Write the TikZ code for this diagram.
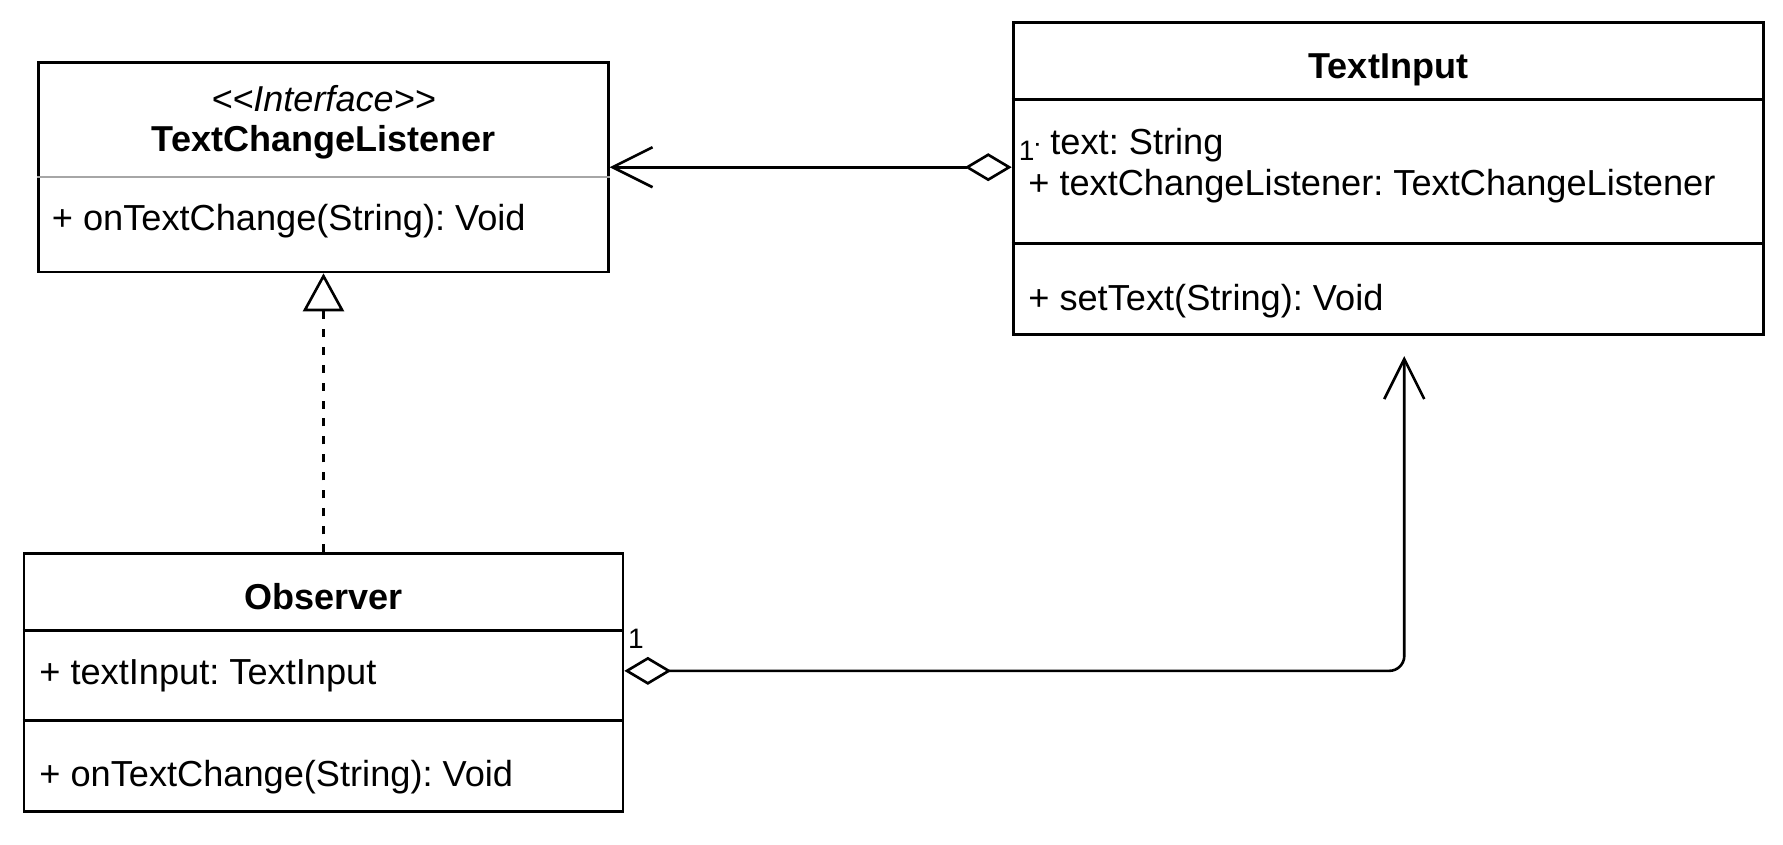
\documentclass[tikz,border=0pt]{standalone}
\usepackage{fontspec}
\setmainfont{Liberation Sans}
\usetikzlibrary{arrows.meta, positioning, calc}
\frenchspacing

\begin{document}
\begin{tikzpicture}[
    x=0.02cm, y=-0.02cm,
    % Class styles
    classbox/.style={rectangle, draw=black, line width=1.6pt, inner sep=0pt},
    sepline/.style={line width=1.6pt},
    ifsepline/.style={line width=1.6pt, draw=gray!70},
    clstitle/.style={font=\fontsize{20.5}{24}\selectfont\bfseries, inner sep=0pt},
    stereo/.style={font=\fontsize{20.5}{24}\selectfont\itshape, inner sep=0pt},
    member/.style={font=\fontsize{20.6}{24}\selectfont, anchor=west, inner sep=0pt, text height=0.72em, text depth=0.21em},
    mult/.style={font=\fontsize{16}{18}\selectfont, inner sep=1pt, fill=white},
    % Arrow styles
    assoc/.style={line width=1.5pt, {Diamond[open, length=0.94cm, width=0.56cm]}-{Straight Barb[length=0.8cm, width=0.8cm]}},
    realize/.style={line width=1.5pt, dash pattern=on 0.16cm off 0.2cm, -{Triangle[open, length=0.76cm, width=0.82cm]}},
]
\useasboundingbox (0,0) rectangle (1783,845);

% Interface
\node[classbox, minimum width=11.39cm, minimum height=4.19cm] (lis) at (323.5,167.2) {};
\node[stereo] (lisstereo) at (323.5,99) {<\kern0pt<Interface>\kern0pt>};
\node[clstitle] (listitle) at (323.5,142) {TextChangeListener};
\draw[ifsepline] ([yshift=-2.32cm]lis.north west) -- ([yshift=-2.32cm]lis.north east);
\node[member] (lisop) at (51.5,226) {+ onTextChange(String): Void};

% TextInput
\node[classbox, minimum width=15.01cm, minimum height=6.23cm] (tin) at (1388.3,178.5) {};
\node[clstitle] (tintitle) at (1388.3,69.5) {TextInput};
\draw[sepline] ([yshift=-1.57cm]tin.north west) -- ([yshift=-1.57cm]tin.north east);
\draw[sepline] ([yshift=-4.436cm]tin.north west) -- ([yshift=-4.436cm]tin.north east);
\node[member] (tintext) at (1028,150) {- text: String};
\node[member] (tinlis) at (1028,191) {+ textChangeListener: TextChangeListener};
\node[member] (tinset) at (1028,306) {+ setText(String): Void};

% Observer
\node[classbox, minimum width=11.98cm, minimum height=5.16cm] (obs) at (323.5,682.85) {};
\node[clstitle] (obstitle) at (323.5,597) {Observer};
\draw[sepline] ([yshift=-1.568cm]obs.north west) -- ([yshift=-1.568cm]obs.north east);
\draw[sepline] ([yshift=-3.366cm]obs.north west) -- ([yshift=-3.366cm]obs.north east);
\node[member] (obsin) at (39,680) {+ textInput: TextInput};
\node[member] (obsop) at (39,782) {+ onTextChange(String): Void};

% Connectors
\draw[assoc] (tin.west |- lis.east) -- (lis.east);
\draw[realize] (obs.north) -- (lis.south);
\draw[assoc, rounded corners=0.3cm] ([yshift=0.24cm]obs.east) -| ([xshift=0.32cm, yshift=-0.41cm]tin.south);

% Multiplicities
\node[mult, anchor=base east] (multtin) at (1036.5,160) {1};
\node[mult, anchor=base west, fill=none] (multobs) at (626,648) {1};

\end{tikzpicture}
\end{document}
